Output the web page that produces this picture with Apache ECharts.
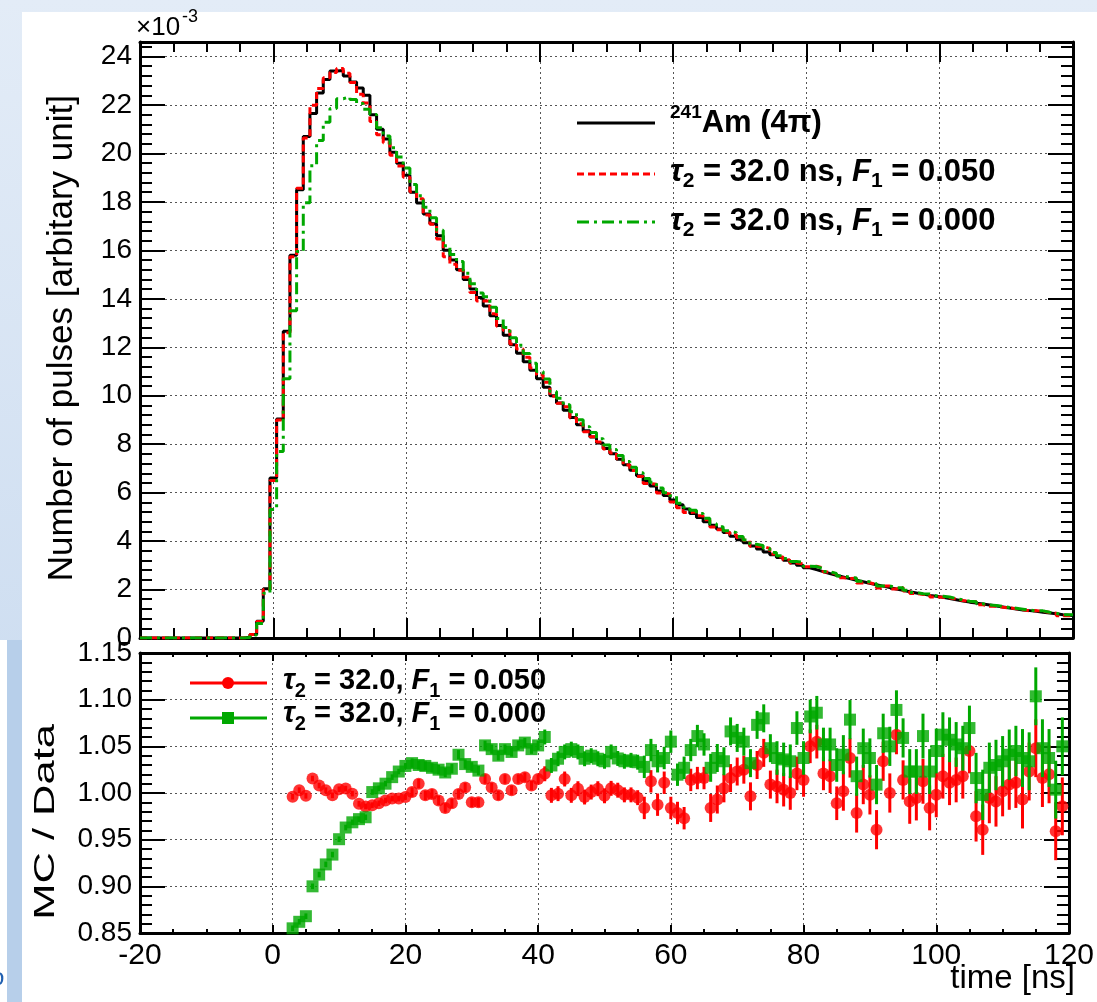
<!DOCTYPE html>
<html><head><meta charset="utf-8">
<script src="https://cdn.jsdelivr.net/npm/echarts@6/dist/echarts.min.js"></script>
<style>html,body{margin:0;padding:0;background:#fff;}#c{width:1097px;height:1002px;}</style>
</head><body><div id="c"></div>
<script>
// ---------- DATA ----------
// histogram bins of 1 ns, first bin centred at -20 ns (units of 1e-3)
const histFirstBinCentre = -20;
const histBinWidth = 1;
const dataAm241 = [
0,0,0,0,0,0,0,0,0,0,0,0,0,0,0,0,0.03,
0.14,0.69,2.03,6.6,9.04,12.66,15.8,18.5,20.7,21.65,22.5,23.05,23.4,23.42,23.2,22.95,22.7,22.4,21.6,21.0,
20.6,20.05,19.6,19.1,18.4,17.95,17.5,17.1,16.6,16.0,15.6,15.2,14.8,14.4,14.05,13.7,13.3,12.9,12.5,12.1,
11.75,11.4,11.05,10.7,10.35,10.0,9.7,9.4,9.1,8.8,8.55,8.3,8.05,7.82,7.6,7.38,7.15,6.92,6.7,6.48,
6.27,6.07,5.88,5.7,5.5,5.32,5.14,4.97,4.8,4.65,4.5,4.35,4.2,4.06,3.93,3.8,3.67,3.55,3.44,3.32,
3.21,3.1,3.0,2.9,2.82,2.74,2.66,2.59,2.52,2.45,2.38,2.32,2.26,2.2,2.14,2.08,2.02,1.97,1.91,1.86,
1.81,1.76,1.72,1.68,1.63,1.58,1.53,1.48,1.44,1.4,1.36,1.32,1.28,1.24,1.2,1.16,1.13,1.1,1.06,1.03,
1.0,0.96,0.93];
const mcF050 = [
0,0,0,0,0,0,0,0,0,0,0,0,0,0,0,0,0.03,
0.14,0.68,2.0,6.5,9.0,12.6,15.74,18.56,20.64,21.99,22.68,23.12,23.34,23.51,23.31,22.93,22.44,22.08,21.32,20.77,
20.44,19.93,19.48,19.02,18.42,18.13,17.46,17.08,16.47,15.74,15.43,15.18,14.89,14.26,13.91,13.91,13.38,12.87,12.69,12.14,
11.93,11.59,11.14,10.86,10.56,9.98,9.69,9.54,9.08,8.84,8.51,8.31,8.09,7.8,7.64,7.4,7.14,6.91,6.67,6.38,
6.35,5.99,5.94,5.61,5.38,5.18,5.21,5.05,4.88,4.58,4.47,4.37,4.27,4.15,4.03,3.79,3.78,3.7,3.47,3.34,
3.22,3.1,3.06,2.94,2.96,2.89,2.72,2.64,2.49,2.45,2.47,2.27,2.28,2.2,2.06,2.15,2.02,2.09,1.94,1.84,
1.8,1.78,1.69,1.68,1.66,1.6,1.55,1.51,1.5,1.37,1.31,1.31,1.27,1.24,1.21,1.17,1.12,1.13,1.11,1.05,
1.02,0.92,0.92];
const mcF000 = [
0,0,0,0,0,0,0,0,0,0,0,0,0,0,0,0,0.02,
0.12,0.6,1.85,5.3,7.7,10.7,13.51,15.95,17.97,19.49,20.53,21.29,21.86,22.26,22.34,22.23,22.06,21.82,21.61,21.06,
20.72,20.24,19.85,19.4,18.72,18.25,17.78,17.35,16.83,16.19,15.83,15.54,15.05,14.62,14.24,14.09,13.65,13.19,12.82,12.39,
12.08,11.74,11.34,11.0,10.69,10.17,9.9,9.63,9.34,9.01,8.72,8.48,8.22,7.97,7.78,7.53,7.28,7.05,6.82,6.58,
6.43,6.19,6.0,5.87,5.56,5.4,5.27,5.14,4.94,4.72,4.59,4.43,4.35,4.19,4.05,3.87,3.82,3.7,3.53,3.39,
3.28,3.16,3.12,2.96,2.95,2.87,2.74,2.66,2.56,2.51,2.48,2.34,2.32,2.24,2.15,2.15,2.08,2.07,1.97,1.88,
1.83,1.82,1.74,1.72,1.69,1.63,1.57,1.52,1.5,1.41,1.36,1.34,1.3,1.26,1.23,1.19,1.15,1.12,1.12,1.06,
1.02,0.96,0.96];

// ratio points (MC / Data), one per ns starting at 3 ns
const ratioFirstTime = 3;
const ratioF050 = [
0.996,1.003,0.997,1.0155,1.008,1.003,0.9975,1.004,1.0047,0.9993,
0.9884,0.9856,0.987,0.989,0.992,0.994,0.994,0.9957,1.001,1.010,
0.9975,0.999,0.992,0.984,0.989,0.999,1.006,0.990,0.990,1.015,
1.006,0.9975,1.015,1.003,1.015,1.017,1.008,1.015,1.0206,0.9975,
0.9993,1.015,0.9975,1.0046,0.9957,1.001,1.0046,0.997,1.005,1.003,
0.998,0.998,0.995,0.984,1.0125,0.9875,1.011,0.984,0.9786,0.973,
1.014,1.016,1.016,0.984,0.993,1.005,1.016,1.023,1.025,0.9964,
1.030,1.043,1.009,1.007,1.0036,1.0,1.021,1.014,1.05,1.055,
1.021,1.018,0.989,1.002,1.0375,0.9786,1.009,0.998,0.9607,1.034,
1.0,1.0625,1.014,0.991,0.9946,1.0125,0.984,0.998,1.018,1.011,
1.014,1.018,1.045,0.975,0.9607,0.9946,0.991,1.002,1.009,1.011,
0.993,1.023,1.048,1.016,1.02,0.959,0.9857];
const ratioF000 = [
0.855,0.862,0.868,0.900,0.9126,0.9235,0.934,0.9505,0.963,0.9686,
0.972,0.974,1.001,1.005,1.010,1.017,1.023,1.029,1.032,1.030,
1.029,1.027,1.025,1.022,1.026,1.041,1.031,1.028,1.024,1.051,
1.047,1.040,1.047,1.044,1.051,1.054,1.047,1.051,1.060,1.0295,
1.0367,1.044,1.047,1.044,1.0367,1.040,1.0367,1.034,1.044,1.037,
1.034,1.035,1.033,1.028,1.046,1.034,1.0375,1.055,1.0196,1.027,
1.046,1.061,1.052,1.027,1.0375,1.034,1.066,1.059,1.055,1.032,
1.073,1.080,1.048,1.0375,1.036,1.034,1.0696,1.0375,1.082,1.086,
1.052,1.052,1.030,1.041,1.0786,1.018,1.048,1.0375,1.009,1.064,
1.05,1.089,1.059,1.023,1.023,1.061,1.023,1.045,1.0625,1.057,
1.052,1.048,1.0696,1.016,0.998,1.027,1.030,1.034,1.041,1.045,
1.0375,1.034,1.1036,1.048,1.0375,1.0036,1.05];
const ratioError = [
0.003,0.003,0.003,0.003,0.003,0.003,0.003,0.003,0.003,0.003,0.003,0.003,0.003,0.003,0.003,0.003,0.003,0.003,
0.005,0.005,0.005,0.005,0.005,0.005,0.005,0.005,0.005,0.005,0.005,0.005,0.005,0.005,0.005,0.005,0.005,0.005,0.005,0.005,
0.008,0.008,0.008,0.008,0.008,0.008,0.008,0.008,0.008,0.008,0.008,0.008,0.008,0.008,0.008,
0.012,0.012,0.012,0.012,0.012,0.012,0.012,0.012,0.012,0.012,
0.015,0.015,0.015,0.015,0.015,0.015,0.015,0.015,0.015,0.015,
0.018,0.018,0.018,0.018,0.018,0.018,0.018,0.018,0.018,0.018,
0.021,0.021,0.021,0.021,0.021,0.021,0.021,0.021,0.021,0.021,
0.024,0.024,0.024,0.024,0.024,0.024,0.024,0.024,0.024,0.024,
0.027,0.027,0.027,0.027,0.027,0.027,0.027,
0.031,0.031,0.031,0.031,0.031,0.031,0.031];

const xTicks = {min: -20, max: 120, interval: 20};
const yTopTicks = {min: 0, max: 24.6, interval: 2};
const yBotTicks = {min: 0.85, max: 1.15, interval: 0.05};

// ---------- BUILD ----------
const FONT = "'Liberation Sans', Arial, Helvetica, sans-serif";
const RED = '#ff0000', GREEN = '#00a800', BLACK = '#000';

function histPoints(vals) {
  const pts = vals.map((v, i) => [Math.max(xTicks.min, histFirstBinCentre + i * histBinWidth - histBinWidth / 2), v]);
  pts.push([xTicks.max, vals[vals.length - 1]]);
  return pts;
}
function ratioPoints(vals) { return vals.map((v, i) => [ratioFirstTime + i, v]); }
function errPoints(vals) { return vals.map((v, i) => [ratioFirstTime + i, v - ratioError[i], v + ratioError[i]]); }

const axLine = {show: true, onZero: false, lineStyle: {color: BLACK, width: 3}};
const gridLine = {show: true, lineStyle: {color: '#555', width: 1, type: [2, 3]}};

function xAxis(grid, pos, tickLen, labels) {
  return Object.assign({}, xTicks, {
    type: 'value', gridIndex: grid, position: pos,
    axisLine: axLine,
    axisTick: {show: true, inside: true, length: tickLen, lineStyle: {color: BLACK, width: 2}},
    minorTick: {show: true, splitNumber: 4, length: tickLen / 2, lineStyle: {color: BLACK, width: 2}},
    axisLabel: labels ? {show: true, fontSize: 30, fontFamily: FONT, color: BLACK, margin: 8} : {show: false},
    splitLine: pos === 'bottom' ? gridLine : {show: false},
    minorSplitLine: {show: false}
  });
}
function yAxis(grid, pos, ticks, labels, fmt) {
  return Object.assign({}, ticks, {
    type: 'value', gridIndex: grid, position: pos,
    axisLine: axLine,
    axisTick: {show: true, inside: true, length: 25, lineStyle: {color: BLACK, width: 2}},
    minorTick: {show: true, splitNumber: 5, length: 12, lineStyle: {color: BLACK, width: 2}},
    axisLabel: labels ? {show: true, fontSize: 28, fontFamily: FONT, color: BLACK, margin: 8,
      showMaxLabel: grid === 1, formatter: fmt} : {show: false},
    splitLine: pos === 'left' ? gridLine : {show: false}
  });
}

const errRender = (color) => (params, api) => {
  const x = api.value(0);
  const p1 = api.coord([x, api.value(1)]);
  const p2 = api.coord([x, api.value(2)]);
  return {type: 'line', shape: {x1: p1[0], y1: p1[1], x2: p2[0], y2: p2[1]}, style: {stroke: color, lineWidth: 3}};
};

const subRich = (size, main, subLH, supLH) => ({
  m: {fontSize: main, fontWeight: 'bold', fontFamily: FONT, lineHeight: 40, fill: BLACK, color: BLACK},
  t: {fontSize: main, fontWeight: 'bold', fontStyle: 'italic', fontFamily: FONT, lineHeight: 40, fill: BLACK, color: BLACK},
  s: {fontSize: size, fontWeight: 'bold', fontFamily: FONT, lineHeight: subLH, verticalAlign: 'bottom', fill: BLACK, color: BLACK},
  sup: {fontSize: size - 2, fontWeight: 'bold', fontFamily: FONT, lineHeight: supLH, verticalAlign: 'top', fill: BLACK, color: BLACK}
});
const topRich = subRich(21, 31, 15, 10);
const botRich = subRich(20, 29, 12, 10);

function txt(x, y, text, rich) {
  return {type: 'text', x: x, y: y, z: 50,
    style: {text: text, rich: rich, x: 0, y: 0, align: 'left', textAlign: 'left',
      verticalAlign: 'middle', textVerticalAlign: 'middle', fill: BLACK}};
}
function seg(x1, y1, x2, y2, color, dash) {
  return {type: 'line', z: 50, shape: {x1, y1, x2, y2},
    style: {stroke: color, lineWidth: 3, lineDash: dash || null}};
}

const graphics = [
  {type: 'rect', z: -100, shape: {x: 0, y: 0, width: 1097, height: 1002},
   style: {fill: new echarts.graphic.LinearGradient(0, 0, 0, 1, [{offset: 0, color: '#e3ecf7'}, {offset: 1, color: '#c4d7ee'}])}},
  {type: 'rect', z: -99, shape: {x: 0, y: 640, width: 7, height: 362}, style: {fill: '#ffffff'}},
  {type: 'rect', z: -99, shape: {x: 7, y: 640, width: 15, height: 362}, style: {fill: '#b7cfea'}},
  {type: 'rect', z: -98, shape: {x: 22, y: 12, width: 1075, height: 990}, style: {fill: '#ffffff'}},
  {type: 'text', z: -97, x: -9, y: 978, style: {text: 'o', font: '24px ' + FONT, fill: '#1f5fb0', verticalAlign: 'middle', textVerticalAlign: 'middle'}},
  // exponent
  {type: 'text', z: 50, x: 136, y: 28, style: {text: '×10', font: '26px ' + FONT, fill: BLACK, verticalAlign: 'middle', textVerticalAlign: 'middle'}},
  {type: 'text', z: 50, x: 182, y: 17, style: {text: '-3', font: '18px ' + FONT, fill: BLACK, verticalAlign: 'middle', textVerticalAlign: 'middle'}},
  // axis titles
  {type: 'text', z: 50, x: 62, y: 95, rotation: Math.PI / 2,
   style: {text: 'Number of pulses [arbitary unit]', font: '35px ' + FONT, fill: BLACK, align: 'right', textAlign: 'right', verticalAlign: 'middle', textVerticalAlign: 'middle'}},
  {type: 'text', z: 50, x: 46, y: 724, rotation: Math.PI / 2, scaleX: 1.45,
   style: {text: 'MC / Data', font: '30px ' + FONT, fill: BLACK, align: 'right', textAlign: 'right', verticalAlign: 'middle', textVerticalAlign: 'middle'}},
  {type: 'text', z: 50, x: 1075, y: 962,
   style: {text: 'time [ns]', font: '33px ' + FONT, fill: BLACK, align: 'right', textAlign: 'right', verticalAlign: 'top', textVerticalAlign: 'top'}},
  // top legend
  seg(577, 123, 655, 123, BLACK),
  seg(577, 174, 655, 174, RED, [7, 4]),
  seg(577, 222, 655, 222, GREEN, [12, 5, 3, 5]),
  txt(670, 123, '{sup|241}{m|Am (4π)}', topRich),
  txt(670, 172, '{t|τ}{s|2}{m| = 32.0 ns, }{t|F}{s|1}{m| = 0.050}', topRich),
  txt(670, 221, '{t|τ}{s|2}{m| = 32.0 ns, }{t|F}{s|1}{m| = 0.000}', topRich),
  // bottom legend
  seg(190, 683, 267, 683, RED),
  {type: 'circle', z: 51, shape: {cx: 228, cy: 683, r: 6}, style: {fill: RED}},
  seg(190, 718, 267, 718, GREEN),
  {type: 'rect', z: 51, shape: {x: 222, y: 712, width: 12, height: 12}, style: {fill: GREEN}},
  txt(283, 681, '{t|τ}{s|2}{m| = 32.0, }{t|F}{s|1}{m| = 0.050}', botRich),
  txt(283, 714, '{t|τ}{s|2}{m| = 32.0, }{t|F}{s|1}{m| = 0.000}', botRich)
];

const chart = echarts.init(document.getElementById('c'), null, {renderer: 'canvas'});
chart.setOption({
  animation: false,
  backgroundColor: 'transparent',
  grid: [
    {left: 140, top: 42, width: 933, height: 596, containLabel: false},
    {left: 140, top: 653, width: 933, height: 280, containLabel: false}
  ],
  xAxis: [xAxis(0, 'bottom', 20, false), xAxis(0, 'top', 20, false), xAxis(1, 'bottom', 8, true), xAxis(1, 'top', 8, false)],
  yAxis: [yAxis(0, 'left', yTopTicks, true, v => String(Math.round(v))), yAxis(0, 'right', yTopTicks, false),
          yAxis(1, 'left', yBotTicks, true, v => v.toFixed(2)), yAxis(1, 'right', yBotTicks, false)],
  graphic: {elements: graphics},
  series: [
    {name: 'data', type: 'line', xAxisIndex: 0, yAxisIndex: 0, step: 'end', showSymbol: false, data: histPoints(dataAm241),
     lineStyle: {color: BLACK, width: 3}, z: 3, clip: true},
    {name: 'mc050', type: 'line', xAxisIndex: 0, yAxisIndex: 0, step: 'end', showSymbol: false, data: histPoints(mcF050),
     lineStyle: {color: RED, width: 3, type: [7, 4]}, z: 4, clip: true},
    {name: 'mc000', type: 'line', xAxisIndex: 0, yAxisIndex: 0, step: 'end', showSymbol: false, data: histPoints(mcF000),
     lineStyle: {color: GREEN, width: 3, type: [12, 5, 3, 5]}, z: 5, clip: true},
    {name: 'rErr050', type: 'custom', xAxisIndex: 2, yAxisIndex: 2, renderItem: errRender(RED), data: errPoints(ratioF050),
     encode: {x: 0, y: [1, 2]}, clip: true, z: 3},
    {name: 'r050', type: 'scatter', xAxisIndex: 2, yAxisIndex: 2, symbol: 'circle', symbolSize: 12, data: ratioPoints(ratioF050),
     itemStyle: {color: RED}, z: 4, clip: true},
    {name: 'rErr000', type: 'custom', xAxisIndex: 2, yAxisIndex: 2, renderItem: errRender(GREEN), data: errPoints(ratioF000),
     encode: {x: 0, y: [1, 2]}, clip: true, z: 5},
    {name: 'r000', type: 'scatter', xAxisIndex: 2, yAxisIndex: 2, symbol: 'rect', symbolSize: 12, data: ratioPoints(ratioF000),
     itemStyle: {color: GREEN}, z: 6, clip: true}
  ]
});
</script>
</body></html>
